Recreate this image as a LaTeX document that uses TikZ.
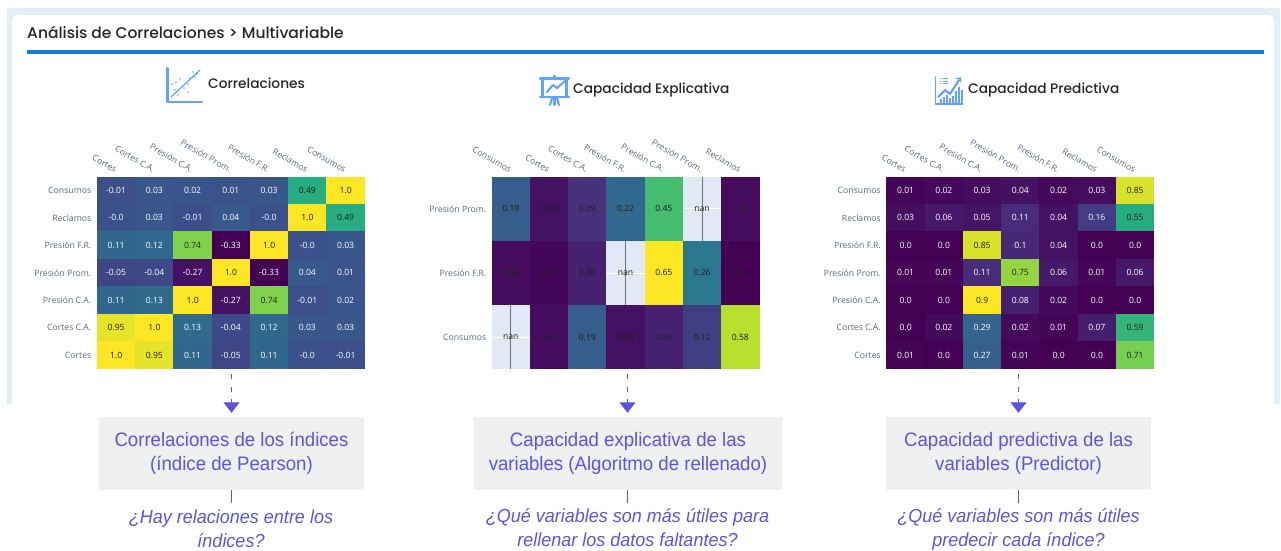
\documentclass[tikz,border=0pt]{standalone}
\usepackage{fontspec}
\usetikzlibrary{arrows.meta}
\newfontfamily\popfont{Poppins Medium}
\newfontfamily\opnfont{Open Sans}
\newfontfamily\robfont[FakeStretch=0.955]{Liberation Sans}
\definecolor{vir0}{HTML}{440154}
\definecolor{vir1}{HTML}{472D7B}
\definecolor{vir2}{HTML}{3B528B}
\definecolor{vir3}{HTML}{2C728E}
\definecolor{vir4}{HTML}{21918C}
\definecolor{vir5}{HTML}{28AE80}
\definecolor{vir6}{HTML}{5EC962}
\definecolor{vir7}{HTML}{ADDC30}
\definecolor{vir8}{HTML}{FDE725}
\definecolor{bandblue}{HTML}{E3EEF7}
\definecolor{barblue}{HTML}{0F7FD8}
\definecolor{iconblue}{HTML}{5FA4FA}
\definecolor{tickgray}{HTML}{5A6A85}
\definecolor{indigo}{HTML}{5A55DF}
\definecolor{boxgray}{HTML}{F0F0F0}
\definecolor{nanfill}{HTML}{E0E9F5}
\definecolor{celldark}{HTML}{1E1E1E}
\newcommand{\noteline}[1]{\smash{\raisebox{-5pt}{#1}}}
\tikzset{
  x=1pt,y=-1pt,
  cellbox/.style={inner sep=0,outer sep=0,font=\opnfont\fontsize{8.6}{10}\selectfont,anchor=center},
  ticktop/.style={inner sep=0,anchor=base east,rotate=-30,text=tickgray,font=\opnfont\fontsize{8.7}{10}\selectfont},
  tickleft/.style={inner sep=0,anchor=east,text=tickgray,font=\opnfont\fontsize{8.7}{10}\selectfont},
  pagetitle/.style={inner sep=0,anchor=base west,text=black!85,font=\popfont\fontsize{15.5}{20}\selectfont},
  sectitle/.style={inner sep=0,anchor=base west,text=black!85,font=\popfont\fontsize{13.75}{18}\selectfont},
  notebox/.style={fill=boxgray,inner sep=0,align=center,text=indigo,minimum height=73,font=\robfont\fontsize{19.5}{24}\selectfont},
  question/.style={inner sep=0,align=center,anchor=north,text=indigo,font=\robfont\itshape\fontsize{18.85}{24}\selectfont},
  dashconn/.style={draw=indigo,line width=1.2,dash pattern=on 5pt off 7.5pt,-{Triangle[width=16,length=10.5,fill=indigo]},shorten <=5,shorten >=4},
  solidconn/.style={draw=indigo,line width=1.2},
  iconline/.style={draw=iconblue,line width=1.2,line cap=round,line join=round},
  iconaxis/.style={draw=iconblue,line width=2.1,line cap=round,line join=round},
}
% prefix, x0, y0, cell h, min, max, dark threshold, rows
\newcommand{\heatgrid}[8]{%
  \def\nanstr{nan}%
  \foreach \rowlist [count=\rr] in {#8}{%
    \foreach \val [count=\cc] in \rowlist {%
      \pgfmathsetmacro{\cx}{#2+(\cc-0.5)*38.25}%
      \pgfmathsetmacro{\cy}{#3+(\rr-0.5)*#4}%
      \edef\vv{\val}%
      \ifx\vv\nanstr
        \node[cellbox,fill=nanfill,text=celldark,minimum width=38.25,minimum height=#4] (#1-\rr-\cc) at (\cx,\cy) {};
        \draw[white,line width=0.7] (#1-\rr-\cc.west) -- (#1-\rr-\cc.east);
        \draw[black!55,line width=1] (#1-\rr-\cc.north) -- (#1-\rr-\cc.south);
        \node[cellbox,text=celldark] (#1-\rr-\cc-t) at (\cx,\cy) {nan};
      \else
        \pgfmathsetmacro{\tv}{(\val-(#5))/((#6)-(#5))*8}%
        \pgfmathtruncatemacro{\idxa}{min(floor(\tv),7)}%
        \pgfmathtruncatemacro{\idxb}{\idxa+1}%
        \pgfmathsetmacro{\pct}{max(0,min(100,(\tv-\idxa)*100))}%
        \colorlet{cellcol}{vir\idxb!\pct!vir\idxa}%
        \pgfmathparse{\val>=#7 ? "celldark" : "white"}%
        \edef\txtcol{\pgfmathresult}%
        \node[cellbox,fill=cellcol,text=\txtcol,minimum width=38.55,minimum height=#4+0.3] (#1-\rr-\cc) at (\cx,\cy) {\val};
      \fi
    }%
  }%
}
\newcommand{\topticks}[3]{%
  \foreach \lab [count=\cc] in {#3}{%
    \pgfmathsetmacro{\cx}{#1+(\cc-0.5)*38.25}%
    \node[ticktop] (#2-top-\cc) at (\cx-1.5,173) {\lab};
  }%
}
\newcommand{\leftticks}[4]{%
  \foreach \lab [count=\rr] in {#4}{%
    \pgfmathsetmacro{\cy}{176.7+(\rr-0.5)*#2}%
    \node[tickleft] (#3-left-\rr) at (#1,\cy) {\lab};
  }%
}
\begin{document}
\begin{tikzpicture}
\useasboundingbox (0,0) rectangle (1281,550);
% card
\fill[bandblue] (6.5,8) rectangle (1280,404);
\fill[white,rounded corners=6] (12,15) rectangle (1274,420);
\fill[white] (0,404) rectangle (1281,550);
\node[pagetitle] (pagetitle) at (27,38.5) {Análisis de Correlaciones > Multivariable};
\fill[barblue] (27,50) rectangle (1264,54);
% section titles
\node[sectitle] (t1) at (208,88) {Correlaciones};
\node[sectitle] (t2) at (573,93.2) {Capacidad Explicativa};
\node[sectitle] (t3) at (968,93.2) {Capacidad Predictiva};
% icon 1
\draw[iconaxis] (167.5,68) -- (167.5,102) -- (202,102);
\draw[iconline] (171,97) -- (200,70);
\foreach \px/\py in {172/84,175/90,178/95,180/79,184/88,188/92,190/78,193/72,195/77,188/84,176/82,197/74}
  \fill[iconblue] (\px,\py) circle (0.8);
% icon 2
\draw[iconaxis] (540,78.5) -- (569,78.5);
\draw[iconaxis] (540,97) -- (569,97);
\draw[iconaxis] (542.5,78.5) -- (542.5,97);
\draw[iconaxis] (566.5,78.5) -- (566.5,97);
\draw[iconaxis] (554.5,76) -- (554.5,78);
\draw[iconaxis] (547,92) -- (553,85) -- (557,88) -- (565,81);
\draw[iconaxis] (554.5,98) -- (554.5,105);
\draw[iconaxis] (552,98) -- (550,105);
\draw[iconaxis] (557,98) -- (559,105);
% icon 3
\draw[iconline] (935.5,77) -- (935.5,104) -- (963,104);
\foreach \bx/\by in {941/99,944/97,947/95,950/98,953/96,956/91,959/87,962/90}
  \draw[iconblue,line width=1.2] (\bx,103) -- (\bx,\by);
\draw[iconaxis] (938,97) -- (945,90) -- (950,94) -- (959,80);
\draw[iconline] (956,78.5) -- (960.5,78) -- (961,82);
\foreach \ly in {78.5,81,83.5}{
  \draw[iconblue,line width=1] (940,\ly) -- (941,\ly);
  \draw[iconblue,line width=1] (943,\ly) -- (948,\ly);
}
% heatmap 1
\topticks{97}{h1}{Cortes,Cortes C.A.,Presión C.A.,Presión Prom.,Presión F.R.,Reclamos,Consumos}
\leftticks{91.5}{27.44}{h1}{Consumos,Reclamos,Presión F.R.,Presión Prom.,Presión C.A.,Cortes C.A.,Cortes}
\heatgrid{h1}{97}{176.7}{27.44}{-0.33}{1}{0.4}{
 {-0.01,0.03,0.02,0.01,0.03,0.49,1.0},
 {-0.0,0.03,-0.01,0.04,-0.0,1.0,0.49},
 {0.11,0.12,0.74,-0.33,1.0,-0.0,0.03},
 {-0.05,-0.04,-0.27,1.0,-0.33,0.04,0.01},
 {0.11,0.13,1.0,-0.27,0.74,-0.01,0.02},
 {0.95,1.0,0.13,-0.04,0.12,0.03,0.03},
 {1.0,0.95,0.11,-0.05,0.11,-0.0,-0.01}}
% heatmap 2
\topticks{491.7}{h2}{Consumos,Cortes,Cortes C.A.,Presión F.R.,Presión C.A.,Presión Prom.,Reclamos}
\leftticks{486.5}{64.1}{h2}{Presión Prom.,Presión F.R.,Consumos}
\heatgrid{h2}{491.7}{176.7}{64.1}{0}{0.65}{-1}{
 {0.19,0.03,0.09,0.22,0.45,nan,0.02},
 {0.02,0.01,0.06,nan,0.65,0.26,0.0},
 {nan,0.02,0.19,0.03,0.06,0.12,0.58}}
% heatmap 3
\topticks{886.5}{h3}{Cortes,Cortes C.A.,Presión C.A.,Presión Prom.,Presión F.R.,Reclamos,Consumos}
\leftticks{881}{27.44}{h3}{Consumos,Reclamos,Presión F.R.,Presión Prom.,Presión C.A.,Cortes C.A.,Cortes}
\heatgrid{h3}{886.5}{176.7}{27.44}{0}{0.9}{0.4}{
 {0.01,0.02,0.03,0.04,0.02,0.03,0.85},
 {0.03,0.06,0.05,0.11,0.04,0.16,0.55},
 {0.0,0.0,0.85,0.1,0.04,0.0,0.0},
 {0.01,0.01,0.11,0.75,0.06,0.01,0.06},
 {0.0,0.0,0.9,0.08,0.02,0.0,0.0},
 {0.0,0.02,0.29,0.02,0.01,0.07,0.59},
 {0.01,0.0,0.27,0.01,0.0,0.0,0.71}}
% notes
\node[notebox,minimum width=265] (box1) at (231.5,453.5) {\noteline{Correlaciones de los índices}\\\noteline{(índice de Pearson)}};
\node[notebox,minimum width=308] (box2) at (628,453.5) {\noteline{Capacidad explicativa de las}\\\noteline{variables (Algoritmo de rellenado)}};
\node[notebox,minimum width=265] (box3) at (1018.5,453.5) {\noteline{Capacidad predictiva de las}\\\noteline{variables (Predictor)}};
\node[question] (q1) at (231,510) {¿Hay relaciones entre los\\índices?};
\node[question] (q2) at (627.5,508.5) {¿Qué variables son más útiles para\\rellenar los datos faltantes?};
\node[question] (q3) at (1018.5,508.5) {¿Qué variables son más útiles\\predecir cada índice?};
% connectors
\coordinate (h1b) at (231.5,369);
\coordinate (h2b) at (627.5,369);
\coordinate (h3b) at (1018.5,369);
\draw[dashconn] (h1b) -- (h1b |- box1.north);
\draw[dashconn] (h2b) -- (h2b |- box2.north);
\draw[dashconn] (h3b) -- (h3b |- box3.north);
\draw[solidconn,shorten >=7.5] (h1b |- box1.south) -- (h1b |- q1.north);
\draw[solidconn,shorten >=6] (h2b |- box2.south) -- (h2b |- q2.north);
\draw[solidconn,shorten >=6] (h3b |- box3.south) -- (h3b |- q3.north);
\end{tikzpicture}
\end{document}
